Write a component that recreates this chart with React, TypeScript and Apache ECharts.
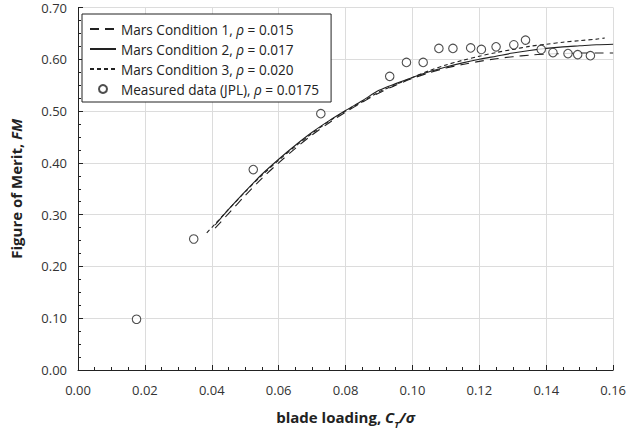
import React, { useEffect, useRef } from "react";
import * as echarts from "echarts";

const seriesNames = ["Mars Condition 1", "Mars Condition 2", "Mars Condition 3", "Measured data (JPL)"];
const rhoLabels = ["0.015", "0.017", "0.020", "0.0175"];

const xTickLabels = ["0.00", "0.02", "0.04", "0.06", "0.08", "0.10", "0.12", "0.14", "0.16"];
const yTickLabels = ["0.00", "0.10", "0.20", "0.30", "0.40", "0.50", "0.60", "0.70"];

const cond1X = [0.041, 0.045, 0.05, 0.055, 0.06, 0.065, 0.07, 0.075, 0.08, 0.085, 0.09, 0.095, 0.1, 0.105, 0.11, 0.115, 0.12, 0.125, 0.13, 0.135, 0.14, 0.145, 0.15, 0.155, 0.16];
const cond1Y = [0.274, 0.302, 0.337, 0.37, 0.4, 0.428, 0.454, 0.477, 0.498, 0.517, 0.535, 0.55, 0.563, 0.574, 0.583, 0.59, 0.596, 0.601, 0.605, 0.608, 0.61, 0.611, 0.612, 0.612, 0.612];

const cond2X = [0.041, 0.045, 0.05, 0.055, 0.06, 0.065, 0.07, 0.075, 0.08, 0.085, 0.09, 0.095, 0.1, 0.105, 0.11, 0.115, 0.12, 0.125, 0.13, 0.135, 0.14, 0.145, 0.15, 0.155, 0.16];
const cond2Y = [0.28, 0.31, 0.345, 0.378, 0.407, 0.434, 0.459, 0.481, 0.501, 0.52, 0.54, 0.553, 0.565, 0.576, 0.585, 0.593, 0.6, 0.606, 0.612, 0.617, 0.621, 0.624, 0.626, 0.628, 0.629];

const cond3X = [0.0385, 0.041, 0.045, 0.05, 0.055, 0.06, 0.065, 0.07, 0.075, 0.08, 0.085, 0.09, 0.095, 0.1, 0.105, 0.11, 0.115, 0.12, 0.125, 0.13, 0.135, 0.14, 0.145, 0.15, 0.155, 0.1575];
const cond3Y = [0.265, 0.282, 0.31, 0.344, 0.376, 0.405, 0.432, 0.457, 0.48, 0.5, 0.518, 0.537, 0.551, 0.565, 0.578, 0.589, 0.598, 0.606, 0.613, 0.619, 0.625, 0.629, 0.633, 0.636, 0.639, 0.641];

const measX = [0.0175, 0.0346, 0.0524, 0.0726, 0.0932, 0.0982, 0.1032, 0.1079, 0.1121, 0.1174, 0.1206, 0.125, 0.1303, 0.1338, 0.1385, 0.142, 0.1465, 0.1494, 0.1532];
const measY = [0.098, 0.253, 0.387, 0.495, 0.567, 0.594, 0.594, 0.621, 0.621, 0.622, 0.619, 0.624, 0.628, 0.637, 0.619, 0.613, 0.611, 0.609, 0.607];

const pairs = (xs: number[], ys: number[]) => xs.map((x, i) => [x, ys[i]]);

const FONT = "Open Sans";
const INK = "#222";

export default function App() {
  const ref = useRef<HTMLDivElement>(null);
  useEffect(() => {
    if (!ref.current) return;
    const chart = echarts.init(ref.current, undefined, { renderer: "svg" });
    const lineBase = { type: "line", showSymbol: false, symbol: "none", smooth: 0.3, z: 3 };
    chart.setOption({
      animation: false,
      textStyle: { fontFamily: FONT },
      grid: { left: 71, right: 14, top: 7.5, bottom: 52 },
      legend: {
        orient: "vertical",
        left: 82,
        top: 14,
        padding: [5, 12, 3, 7],
        itemWidth: 26,
        itemHeight: 8,
        itemGap: 0,
        borderColor: INK,
        borderWidth: 1,
        borderRadius: 0,
        backgroundColor: "#fff",
        data: [
          { name: seriesNames[0], itemStyle: { opacity: 0 } },
          { name: seriesNames[1], itemStyle: { opacity: 0 } },
          { name: seriesNames[2], itemStyle: { opacity: 0 } },
          { name: seriesNames[3] },
        ],
        formatter: (name: string) => {
          const i = seriesNames.indexOf(name);
          return `${name}, {i|ρ} = ${rhoLabels[i]}`;
        },
        textStyle: {
          fontFamily: FONT,
          fontSize: 13.6,
          color: INK,
          lineHeight: 20,
          rich: { i: { fontFamily: FONT, fontSize: 13.6, fontStyle: "italic", color: INK, lineHeight: 20 } },
        },
      },
      xAxis: {
        type: "value",
        min: 0,
        max: 0.16,
        interval: 0.02,
        name: "blade loading, {i|C}{sub|T}{i|/σ}",
        nameLocation: "middle",
        nameGap: 37,
        nameTextStyle: {
          fontFamily: FONT,
          fontSize: 15,
          fontWeight: "bold",
          color: INK,
          lineHeight: 19,
          rich: {
            i: { fontFamily: FONT, fontSize: 15, fontWeight: "bold", fontStyle: "italic", color: INK, lineHeight: 19 },
            sub: { fontFamily: FONT, fontSize: 9.5, fontWeight: "bold", fontStyle: "italic", color: INK, verticalAlign: "bottom", lineHeight: 9, padding: [0, 0, -3, 0] },
          },
        },
        axisLine: { lineStyle: { color: INK, width: 1 } },
        axisTick: { inside: true, length: 5, lineStyle: { color: INK } },
        minorTick: { show: true, splitNumber: 4, length: 3, lineStyle: { color: INK } },
        axisLabel: {
          fontFamily: FONT,
          fontSize: 13,
          color: "#333",
          margin: 13,
          formatter: (v: number) => xTickLabels[Math.round(v / 0.02)] ?? v.toFixed(2),
        },
        splitLine: { show: true, lineStyle: { color: "#dcdcdc", width: 1 } },
      },
      yAxis: {
        type: "value",
        min: 0,
        max: 0.7,
        interval: 0.1,
        name: "Figure of Merit, {i|FM}",
        nameLocation: "middle",
        nameGap: 55,
        nameTextStyle: {
          fontFamily: FONT,
          fontSize: 15,
          fontWeight: "bold",
          color: INK,
          rich: { i: { fontFamily: FONT, fontSize: 15, fontWeight: "bold", fontStyle: "italic", color: INK } },
        },
        axisLine: { show: true, lineStyle: { color: INK, width: 1 } },
        axisTick: { show: true, inside: true, length: 5, lineStyle: { color: INK } },
        minorTick: { show: true, splitNumber: 4, length: 3, lineStyle: { color: INK } },
        axisLabel: {
          fontFamily: FONT,
          fontSize: 13,
          color: "#333",
          margin: 11,
          formatter: (v: number) => yTickLabels[Math.round(v / 0.1)] ?? v.toFixed(2),
        },
        splitLine: { show: true, lineStyle: { color: "#dcdcdc", width: 1 } },
      },
      series: [
        { ...lineBase, name: seriesNames[0], data: pairs(cond1X, cond1Y), lineStyle: { color: INK, width: 1.1, type: [9, 6] }, itemStyle: { color: INK } },
        { ...lineBase, name: seriesNames[1], data: pairs(cond2X, cond2Y), lineStyle: { color: INK, width: 1.1, type: "solid" }, itemStyle: { color: INK } },
        { ...lineBase, name: seriesNames[2], data: pairs(cond3X, cond3Y), lineStyle: { color: INK, width: 1.1, type: [4, 3] }, itemStyle: { color: INK } },
        {
          type: "scatter",
          name: seriesNames[3],
          data: pairs(measX, measY),
          symbol: "circle",
          symbolSize: 8.5,
          z: 5,
          itemStyle: { color: "#fff", borderColor: INK, borderWidth: 1.1 },
        },
      ],
    });
    return () => chart.dispose();
  }, []);
  return <div ref={ref} style={{ width: 629, height: 434, position: "absolute", left: 0, top: 0 }} />;
}
